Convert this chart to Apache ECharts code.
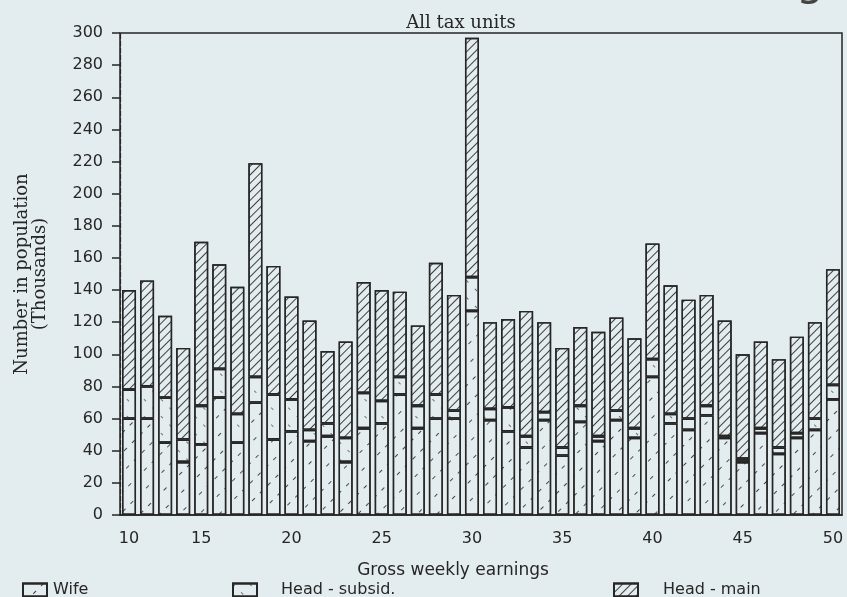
<!DOCTYPE html>
<html>
<head>
<meta charset="utf-8">
<script src="https://cdn.jsdelivr.net/npm/echarts@6/dist/echarts.min.js"></script>
<style>
html,body{margin:0;padding:0;background:#e3ecee;}
#c{width:847px;height:597px;}
</style>
</head>
<body>
<div id="c"></div>
<script>
// Bins (bars), one per gross weekly earnings step
const categories = ['11','12','13','14','15','16','17','18','19','20',
  '21','22','23','24','25','26','27','28','29','30',
  '31','32','33','34','35','36','37','38','39','40',
  '41','42','43','44','45','46','47','48','49','50'];
// Printed tick labels under the bars
const tickLabels = ['10','','','','15','','','','','20',
  '','','','','25','','','','','30',
  '','','','','35','','','','','40',
  '','','','','45','','','','','50'];
const yTicks = [0, 300, 20];

// Values in thousands
const wife = [60,60,45,33,44,73,45,70,47,52,
  46,49,33,54,57,75,54,60,60,127,
  59,52,42,59,37,58,46,59,48,86,
  57,53,62,48,33,51,38,48,53,72];
const headSubsid = [18,20,28,14,24,18,18,16,28,20,
  7,8,15,22,14,11,14,15,5,21,
  7,15,7,5,5,10,3,6,6,11,
  6,7,6,1,2,3,4,3,7,9];
const headMain = [62,66,51,57,102,65,79,133,80,64,
  68,45,60,69,69,53,50,82,72,149,
  54,55,78,56,62,49,65,58,56,72,
  80,74,69,72,65,54,55,60,60,72];

const bg = '#e3ecee';
const ink = '#262626';

function barSeries(name, data, decal) {
  return {
    name: name, type: 'bar', stack: 'all', data: data,
    barWidth: 14,
    itemStyle: { color: bg, borderColor: ink, borderWidth: 1.4, decal: decal },
    emphasis: { disabled: true }
  };
}

const legendText = function (pad) {
  return { fontFamily: 'DejaVu Sans', fontSize: 16, color: ink, padding: [0, 0, 0, pad] };
};

const chart = echarts.init(document.getElementById('c'));
chart.setOption({
  backgroundColor: bg,
  animation: false,
  aria: { enabled: false },
  title: {
    text: 'All tax units', left: 456, top: 9, textAlign: 'center',
    textStyle: { fontFamily: 'DejaVu Serif', fontSize: 18, fontWeight: 'normal', color: ink }
  },
  graphic: [{
    type: 'text', left: 796, top: -38,
    style: { text: 'g', font: '44px "DejaVu Sans"', fill: '#444' }
  }, {
    type: 'text', x: 453, y: 571,
    style: { text: 'Gross weekly earnings', font: '17px "DejaVu Sans"', fill: ink, textAlign: 'center', textVerticalAlign: 'middle' }
  }],
  grid: { left: 120, right: 5, top: 33, bottom: 82, show: true, borderColor: ink, borderWidth: 1.5, backgroundColor: 'transparent' },
  legend: [
    { data: ['Wife'], icon: 'rect', left: 17, top: 577, itemWidth: 24, itemHeight: 13, textStyle: legendText(1) },
    { data: ['Head - subsid.'], icon: 'rect', left: 227, top: 577, itemWidth: 24, itemHeight: 13, textStyle: legendText(19) },
    { data: ['Head - main'], icon: 'rect', left: 608, top: 577, itemWidth: 24, itemHeight: 13, textStyle: legendText(20) }
  ],
  xAxis: {
    type: 'category', data: categories,
    axisLine: { lineStyle: { color: ink, width: 1.5 } },
    axisTick: { alignWithLabel: true, interval: 0, length: 7, lineStyle: { color: '#555', width: 1, type: 'dotted' } },
    axisLabel: { interval: 0, margin: 16, fontFamily: 'DejaVu Sans', fontSize: 16, color: ink,
      formatter: function (v, i) { return tickLabels[i]; } }
  },
  yAxis: {
    type: 'value', min: yTicks[0], max: yTicks[1], interval: yTicks[2],
    name: 'Number in population\n(Thousands)', nameLocation: 'middle', nameGap: 71,
    nameTextStyle: { fontFamily: 'DejaVu Serif', fontSize: 18, color: ink, lineHeight: 18 },
    axisLine: { show: true, lineStyle: { color: ink, width: 1.2, type: [5, 2] } },
    axisTick: { show: true, length: 8, lineStyle: { color: ink, width: 1.5 } },
    axisLabel: { margin: 17, fontFamily: 'DejaVu Sans', fontSize: 16, color: ink },
    splitLine: { show: false }
  },
  series: [
    barSeries('Wife', wife, { symbol: 'rect', symbolSize: 1, color: 'rgba(30,30,30,0.8)', dashArrayX: [4, 7], dashArrayY: [1, 13], rotation: -Math.PI / 4 }),
    barSeries('Head - subsid.', headSubsid, { symbol: 'rect', symbolSize: 1, color: 'rgba(30,30,30,0.6)', dashArrayX: [3, 9], dashArrayY: [1, 11], rotation: Math.PI / 4 }),
    barSeries('Head - main', headMain, { symbol: 'rect', symbolSize: 1, color: 'rgba(30,30,30,0.85)', dashArrayX: [1, 0], dashArrayY: [1, 5], rotation: -Math.PI / 4 })
  ]
});
</script>
</body>
</html>
